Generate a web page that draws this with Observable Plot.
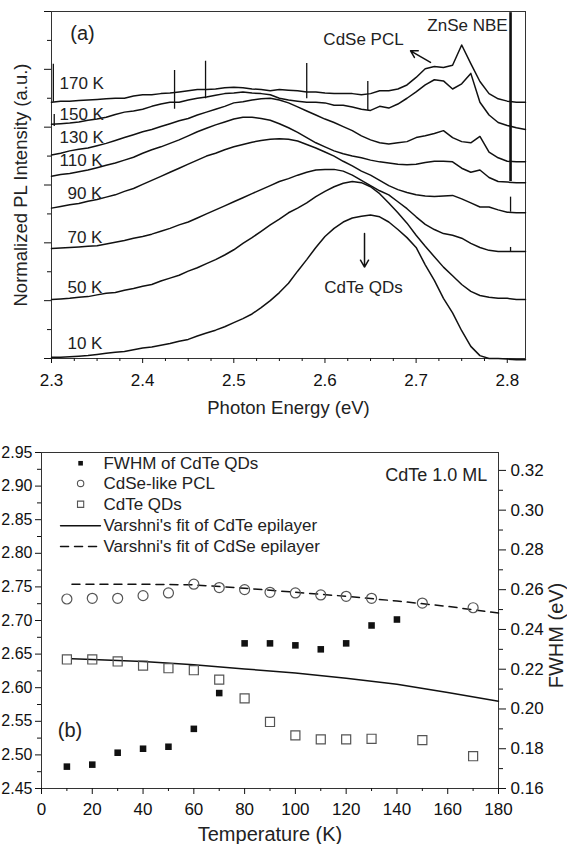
<!DOCTYPE html>
<html><head><meta charset="utf-8">
<script src="https://cdn.jsdelivr.net/npm/d3@7"></script>
<script src="https://cdn.jsdelivr.net/npm/@observablehq/plot@0.6"></script>
<style>
body{margin:0;background:#fff;}
#wrap{position:relative;width:567px;height:844px;overflow:hidden;background:#fff;}
#wrap svg{position:absolute;left:0;}
</style></head><body><div id="wrap"></div>
<script>
// ---------- Panel (a): PL spectra ----------
const energy = [2.30,2.31,2.32,2.33,2.34,2.35,2.36,2.37,2.38,2.39,2.40,2.41,2.42,2.43,2.44,2.45,2.46,2.47,2.48,2.49,2.50,2.51,2.52,2.53,2.54,2.55,2.56,2.57,2.58,2.59,2.60,2.61,2.62,2.63,2.64,2.65,2.66,2.67,2.68,2.69,2.70,2.71,2.72,2.73,2.74,2.75,2.76,2.77,2.78,2.79,2.80,2.81,2.82];
const temps = ["10 K","50 K","70 K","90 K","110 K","130 K","150 K","170 K"];
const pl10 = [0.02,0.02,0.03,0.04,0.05,0.07,0.09,0.11,0.12,0.15,0.18,0.20,0.23,0.26,0.30,0.33,0.39,0.44,0.49,0.55,0.62,0.69,0.77,0.88,1.00,1.14,1.30,1.51,1.71,1.92,2.11,2.25,2.36,2.43,2.46,2.48,2.45,2.36,2.23,2.09,1.92,1.62,1.35,1.04,0.79,0.48,0.21,0.05,0.00,0.00,-0.01,-0.02,-0.02];
const pl50 = [1.02,1.03,1.04,1.06,1.07,1.10,1.13,1.14,1.18,1.21,1.25,1.28,1.34,1.39,1.44,1.51,1.57,1.64,1.71,1.79,1.88,1.99,2.09,2.20,2.31,2.41,2.52,2.60,2.69,2.80,2.89,2.97,3.03,3.06,3.04,2.97,2.85,2.69,2.52,2.34,2.13,1.94,1.76,1.58,1.43,1.28,1.16,1.09,1.06,1.04,1.04,1.02,1.02];
const pl70 = [1.90,1.91,1.92,1.93,1.94,1.95,1.98,2.01,2.04,2.08,2.11,2.15,2.20,2.25,2.31,2.36,2.43,2.50,2.57,2.64,2.71,2.78,2.85,2.92,2.99,3.06,3.11,3.17,3.22,3.26,3.27,3.27,3.24,3.17,3.08,2.99,2.90,2.83,2.71,2.59,2.45,2.32,2.23,2.16,2.13,2.08,1.99,1.92,1.87,1.85,1.85,1.85,1.85];
const pl90 = [2.60,2.63,2.66,2.68,2.72,2.75,2.79,2.83,2.89,2.94,3.01,3.08,3.15,3.22,3.29,3.36,3.43,3.50,3.55,3.61,3.66,3.70,3.74,3.77,3.79,3.80,3.79,3.76,3.70,3.64,3.57,3.50,3.41,3.33,3.24,3.17,3.08,2.99,2.92,2.87,2.83,2.81,2.80,2.81,2.82,2.76,2.69,2.62,2.62,2.57,2.53,2.52,2.52];
const pl110 = [3.15,3.18,3.20,3.23,3.26,3.30,3.34,3.38,3.43,3.48,3.55,3.61,3.66,3.72,3.78,3.85,3.92,3.98,4.04,4.09,4.14,4.17,4.17,4.15,4.12,4.06,3.99,3.91,3.82,3.73,3.66,3.59,3.54,3.50,3.47,3.43,3.40,3.38,3.36,3.35,3.36,3.39,3.41,3.41,3.40,3.29,3.22,3.26,3.13,3.06,3.05,3.04,3.04];
const pl130 = [3.52,3.55,3.59,3.62,3.64,3.68,3.72,3.77,3.82,3.87,3.92,3.96,4.01,4.06,4.11,4.15,4.21,4.26,4.31,4.36,4.42,4.44,4.47,4.49,4.50,4.47,4.42,4.35,4.28,4.21,4.14,4.08,4.01,3.94,3.85,3.78,3.73,3.71,3.73,3.75,3.82,3.85,3.89,3.94,3.82,3.75,3.73,3.84,3.57,3.47,3.41,3.40,3.40];
const pl150 = [4.05,4.06,4.07,4.09,4.12,4.14,4.17,4.22,4.26,4.28,4.31,4.36,4.40,4.43,4.43,4.47,4.50,4.52,4.55,4.58,4.59,4.61,4.59,4.58,4.56,4.50,4.47,4.45,4.43,4.43,4.42,4.38,4.38,4.35,4.31,4.29,4.36,4.33,4.40,4.50,4.61,4.73,4.82,4.80,4.66,4.75,4.93,4.43,4.21,4.08,4.03,3.99,3.96];
const pl170 = [4.43,4.45,4.45,4.46,4.47,4.48,4.49,4.50,4.50,4.54,4.56,4.56,4.58,4.59,4.61,4.63,4.65,4.65,4.66,4.68,4.69,4.68,4.66,4.65,4.63,4.65,4.64,4.63,4.61,4.61,4.59,4.58,4.58,4.58,4.56,4.58,4.63,4.63,4.66,4.73,4.86,5.01,5.05,5.03,5.07,5.42,5.10,4.79,4.58,4.49,4.45,4.43,4.43];
const plSeries = [pl10, pl50, pl70, pl90, pl110, pl130, pl150, pl170];

// narrow spikes (energy, low, high)
const spikeE  = [2.302, 2.303, 2.435, 2.469, 2.580, 2.647, 2.8036, 2.8036];
const spikeLo = [4.43, 4.01, 4.31, 4.49, 4.49, 4.29, 2.53, 1.85];
const spikeHi = [5.09, 4.22, 4.98, 5.14, 5.10, 4.79, 2.79, 1.92];
// strong ZnSe NBE line
const nbeE = [2.8036], nbeLo = [3.06], nbeHi = [5.98];

// curve labels
const curveLabels = ["170 K","150 K","130 K","110 K","90 K","70 K","50 K","10 K"];
const curveLabelE = [2.3088,2.3088,2.3088,2.3088,2.3175,2.3175,2.3175,2.3175];
const curveLabelI = [4.75,4.22,3.82,3.43,2.85,2.09,1.23,0.25];

const xTicksA = [2.3,2.4,2.5,2.6,2.7,2.8];
const xMinorA = [2.325,2.35,2.375,2.425,2.45,2.475,2.525,2.55,2.575,2.625,2.65,2.675,2.725,2.75,2.775];
const yTicksA = [0,1,2,3,4,5,6];
const yMinorA = [0.5,1.5,2.5,3.5,4.5,5.5];

// ---------- Panel (b): temperature dependence ----------
const fwhmT = [10,20,30,40,50,60,70,80,90,100,110,120,130,140];
const fwhm  = [0.171,0.172,0.178,0.180,0.181,0.190,0.208,0.233,0.233,0.232,0.230,0.233,0.242,0.245];
const peakT = [10,20,30,40,50,60,70,80,90,100,110,120,130,150,170];
const pclE  = [2.732,2.733,2.733,2.737,2.741,2.754,2.749,2.746,2.742,2.741,2.738,2.736,2.733,2.726,2.719];
const qdE   = [2.642,2.642,2.639,2.633,2.629,2.626,2.612,2.584,2.549,2.529,2.523,2.523,2.524,2.522,2.498];
const fitT     = [12,20,40,60,80,100,120,140,160,180];
const fitCdTe  = [2.643,2.642,2.639,2.634,2.628,2.622,2.614,2.605,2.593,2.580];
const fitCdSe  = [2.754,2.754,2.754,2.753,2.748,2.742,2.736,2.729,2.721,2.711];
const legendLabels = ["FWHM of CdTe QDs","CdSe-like PCL","CdTe QDs","Varshni's fit of CdTe epilayer","Varshni's fit of CdSe epilayer"];

const xTicksB = [0,20,40,60,80,100,120,140,160,180];
const xMinorB = [10,30,50,70,90,110,130,150,170];
const yTicksB = [2.45,2.50,2.55,2.60,2.65,2.70,2.75,2.80,2.85,2.90,2.95];
const yMinorB = [2.475,2.525,2.575,2.625,2.675,2.725,2.775,2.825,2.875,2.925];
const y2TicksB = [0.16,0.18,0.20,0.22,0.24,0.26,0.28,0.30,0.32];
const y2MinorB = [0.17,0.19,0.21,0.23,0.25,0.27,0.29,0.31];

const FONT = "'Liberation Sans', Arial, Helvetica, sans-serif";
const INK = "#111";

// build tables
const plRows = [];
plSeries.forEach((s, i) => s.forEach((v, k) => plRows.push({T: temps[i], E: energy[k], I: v})));
const spikes = spikeE.map((e, i) => ({E: e, lo: spikeLo[i], hi: spikeHi[i]}));
const nbe = nbeE.map((e, i) => ({E: e, lo: nbeLo[i], hi: nbeHi[i]}));

const plotA = Plot.plot({
  width: 567, height: 420,
  marginLeft: 51, marginRight: 42, marginTop: 11, marginBottom: 62,
  style: {fontFamily: FONT, fontSize: "17px", color: INK, background: "white"},
  x: {domain: [2.3, 2.82]},
  y: {domain: [0, 6]},
  marks: [
    Plot.frame({stroke: "#333"}),
    Plot.axisX({ticks: xTicksA, tickSize: 5, tickPadding: 10, tickFormat: d3.format(".1f"), label: null, fontSize: 17}),
    Plot.axisX({ticks: xMinorA, tickSize: 3, tickFormat: () => "", label: null}),
    Plot.axisY({ticks: yTicksA, tickSize: 7, tickFormat: () => "", label: null}),
    Plot.axisY({ticks: yMinorA, tickSize: 4, tickFormat: () => "", label: null}),
    Plot.line(plRows, {x: "E", y: "I", z: "T", stroke: INK, strokeWidth: 1.5}),
    Plot.ruleX(spikes, {x: "E", y1: "lo", y2: "hi", stroke: INK, strokeWidth: 1.3}),
    Plot.ruleX(nbe, {x: "E", y1: "lo", y2: "hi", stroke: INK, strokeWidth: 2.6}),
    Plot.text(curveLabels, {x: curveLabelE, y: curveLabelI, text: d => d, textAnchor: "start", fontSize: 17, fill: "#222"}),
    Plot.text(["(a)"], {x: [2.334], y: [5.61], text: d => d, fontSize: 20, fill: "#222"}),
    Plot.text(["CdSe PCL"], {x: [2.6423], y: [5.52], text: d => d, fontSize: 17, fill: "#222"}),
    Plot.text(["ZnSe NBE"], {x: [2.7564], y: [5.75], text: d => d, fontSize: 17, fill: "#222"}),
    Plot.text(["CdTe QDs"], {x: [2.6423], y: [1.23], text: d => d, fontSize: 17, fill: "#222"}),
    Plot.arrow([0], {x1: [2.7158], y1: [5.12], x2: [2.6939], y2: [5.32], stroke: INK, strokeWidth: 1.5, headLength: 8}),
    Plot.arrow([0], {x1: [2.6434], y1: [2.16], x2: [2.6434], y2: [1.58], stroke: INK, strokeWidth: 1.5, headLength: 8}),
    Plot.text(["Photon Energy (eV)"], {frameAnchor: "bottom", dy: 50, lineAnchor: "middle", textAnchor: "middle", text: d => d, fontSize: 18.5, fill: "#222"}),
    Plot.text(["Normalized PL Intensity (a.u.)"], {frameAnchor: "left", dx: -30, rotate: -90, textAnchor: "middle", lineAnchor: "middle", text: d => d, fontSize: 18.5, fill: "#222"})
  ]
});

const fwhmRows = fwhmT.map((t, i) => ({T: t, F: fwhm[i]}));
const pclRows = peakT.map((t, i) => ({T: t, E: pclE[i]}));
const qdRows = peakT.map((t, i) => ({T: t, E: qdE[i]}));
const cdteFit = fitT.map((t, i) => ({T: t, E: fitCdTe[i]}));
const cdseFit = fitT.map((t, i) => ({T: t, E: fitCdSe[i]}));

// legend layout (in panel-b data coordinates)
const legX = 15.4, legLine = [7.5, 23.2], legTextX = 24.4;
const legY = [2.934, 2.904, 2.873, 2.841, 2.810];

const plotB1 = Plot.plot({
  width: 567, height: 424,
  marginLeft: 41, marginRight: 69, marginTop: 32, marginBottom: 56,
  style: {fontFamily: FONT, fontSize: "17px", color: INK, background: "white"},
  x: {domain: [0, 180]},
  y: {domain: [2.45, 2.95]},
  marks: [
    Plot.frame({stroke: "#333"}),
    Plot.axisX({ticks: xTicksB, tickSize: 6, tickPadding: 8, tickFormat: d3.format("d"), label: null, fontSize: 17}),
    Plot.axisX({ticks: xMinorB, tickSize: 3, tickFormat: () => "", label: null}),
    Plot.axisY({ticks: yTicksB, tickSize: 6, tickPadding: 3, tickFormat: d3.format(".2f"), label: null, fontSize: 16}),
    Plot.axisY({ticks: yMinorB, tickSize: 4, tickFormat: () => "", label: null}),
    Plot.line(cdteFit, {x: "T", y: "E", stroke: INK, strokeWidth: 1.5}),
    Plot.line(cdseFit, {x: "T", y: "E", stroke: INK, strokeWidth: 1.5, strokeDasharray: "8,6"}),
    Plot.dot(pclRows, {x: "T", y: "E", r: 5, stroke: "#555", strokeWidth: 1.2, fill: "none"}),
    Plot.dot(qdRows, {x: "T", y: "E", r: 5.1, symbol: "square", stroke: "#555", strokeWidth: 1.2, fill: "none"}),
    // legend
    Plot.dot([0], {x: [legX], y: [legY[0]], r: 2.6, symbol: "square", fill: INK, stroke: "none"}),
    Plot.dot([0], {x: [legX], y: [legY[1]], r: 3.2, stroke: "#555", strokeWidth: 1.1, fill: "none"}),
    Plot.dot([0], {x: [legX], y: [legY[2]], r: 3.5, symbol: "square", stroke: "#555", strokeWidth: 1.1, fill: "none"}),
    Plot.line(legLine.map(x => ({x, y: legY[3]})), {x: "x", y: "y", stroke: INK, strokeWidth: 1.5}),
    Plot.line(legLine.map(x => ({x, y: legY[4]})), {x: "x", y: "y", stroke: INK, strokeWidth: 1.5, strokeDasharray: "8,6"}),
    Plot.text(legendLabels, {x: legTextX, y: legY, text: d => d, textAnchor: "start", fontSize: 17, fill: "#222"}),
    Plot.text(["CdTe 1.0 ML"], {x: [175.6], y: [2.916], text: d => d, textAnchor: "end", fontSize: 18, fill: "#222"}),
    Plot.text(["(b)"], {x: [11.2], y: [2.536], text: d => d, fontSize: 20, fill: "#222"}),
    Plot.text(["Temperature (K)"], {frameAnchor: "bottom", dy: 46, lineAnchor: "middle", textAnchor: "middle", text: d => d, fontSize: 20, fill: "#222"})
  ]
});

const plotB2 = Plot.plot({
  width: 567, height: 424,
  marginLeft: 41, marginRight: 69, marginTop: 32, marginBottom: 56,
  style: {fontFamily: FONT, fontSize: "17px", color: INK, background: "transparent"},
  x: {domain: [0, 180], axis: null},
  y: {domain: [0.16, 0.329], axis: null},
  marks: [
    Plot.axisY({anchor: "right", ticks: y2TicksB, tickSize: 7, tickPadding: 5, tickFormat: d3.format(".2f"), label: null, fontSize: 17}),
    Plot.axisY({anchor: "right", ticks: y2MinorB, tickSize: 4, tickFormat: () => "", label: null}),
    Plot.dot(fwhmRows, {x: "T", y: "F", r: 3.7, symbol: "square", fill: INK, stroke: "none"}),
    Plot.text(["FWHM (eV)"], {frameAnchor: "right", dx: 58, dy: 15, rotate: -90, textAnchor: "middle", lineAnchor: "middle", text: d => d, fontSize: 20, fill: "#222"})
  ]
});

const wrap = document.getElementById("wrap");
plotA.style.top = "0px";
plotB1.style.top = "420px";
plotB2.style.top = "420px";
wrap.appendChild(plotA);
wrap.appendChild(plotB1);
wrap.appendChild(plotB2);
</script></body></html>
